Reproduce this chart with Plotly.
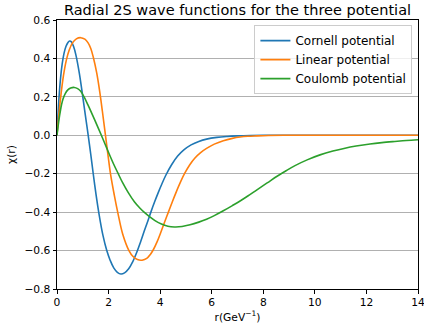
import plotly.graph_objects as go

# Radial coordinate samples (GeV^-1) and chi(r) values for each potential
r_cornell = [0, 0.04, 0.08, 0.14, 0.2, 0.27, 0.35, 0.42, 0.49, 0.56, 0.64, 0.73,
             0.87, 1.0, 1.11, 1.21, 1.31, 1.40, 1.51, 1.63, 1.78, 1.93, 2.06,
             2.2, 2.34, 2.48, 2.62, 2.78, 2.93, 3.09, 3.24, 3.38, 3.52, 3.64,
             3.79, 3.93, 4.07, 4.22, 4.45, 4.68, 4.92, 5.2, 5.5, 5.8, 6.2, 6.6,
             7.0, 7.5, 8.0, 8.5, 9.5, 11, 12.5, 14]
chi_cornell = [0, 0.11, 0.2, 0.30, 0.37, 0.425, 0.463, 0.482, 0.491, 0.486,
               0.463, 0.42, 0.32, 0.2, 0.095, 0.0, -0.1, -0.195, -0.305, -0.41,
               -0.52, -0.6, -0.65, -0.69, -0.713, -0.722, -0.716, -0.695, -0.66,
               -0.61, -0.555, -0.5, -0.447, -0.4, -0.345, -0.297, -0.252, -0.208,
               -0.152, -0.108, -0.076, -0.05, -0.032, -0.02, -0.011, -0.006,
               -0.003, -0.001, 0, 0, 0, 0, 0, 0]

r_linear = [0, 0.07, 0.14, 0.25, 0.36, 0.47, 0.6, 0.75, 0.92, 1.08, 1.2, 1.31,
            1.41, 1.54, 1.66, 1.76, 1.86, 1.97, 2.08, 2.22, 2.37, 2.55, 2.79,
            2.95, 3.12, 3.3, 3.48, 3.62, 3.73, 3.88, 4.02, 4.17, 4.32, 4.47,
            4.63, 4.8, 4.96, 5.15, 5.35, 5.57, 5.8, 6.1, 6.45, 6.8, 7.1, 7.4,
            7.74, 8.2, 8.8, 9.5, 11, 12.5, 14]
chi_linear = [0, 0.105, 0.195, 0.31, 0.39, 0.443, 0.481, 0.502, 0.508, 0.5,
              0.482, 0.452, 0.405, 0.325, 0.225, 0.125, 0.02, -0.095, -0.205,
              -0.31, -0.41, -0.515, -0.6, -0.631, -0.647, -0.65, -0.641, -0.62,
              -0.597, -0.555, -0.507, -0.453, -0.4, -0.347, -0.293, -0.24,
              -0.196, -0.153, -0.118, -0.09, -0.068, -0.046, -0.028, -0.016,
              -0.009, -0.005, -0.003, -0.001, 0, 0, 0, 0, 0]

r_coulomb = [0, 0.05, 0.1, 0.17, 0.23, 0.32, 0.42, 0.53, 0.67, 0.8, 0.92, 1.05,
             1.2, 1.38, 1.55, 1.72, 1.87, 2.02, 2.19, 2.36, 2.55, 2.77, 3.0,
             3.22, 3.4, 3.6, 3.8, 4.05, 4.3, 4.55, 4.85, 5.16, 5.5, 5.8, 6.1,
             6.45, 6.8, 7.1, 7.4, 7.74, 8.15, 8.55, 8.9, 9.23, 9.7, 10.2, 10.7,
             11.17, 11.6, 12.14, 12.6, 13.1, 13.55, 14]
chi_coulomb = [0, 0.055, 0.102, 0.155, 0.188, 0.217, 0.236, 0.246, 0.249,
               0.243, 0.229, 0.2, 0.158, 0.105, 0.053, 0.0, -0.048, -0.096,
               -0.148, -0.196, -0.248, -0.3, -0.346, -0.38, -0.403, -0.425,
               -0.444, -0.462, -0.473, -0.477, -0.475, -0.466, -0.452, -0.437,
               -0.418, -0.393, -0.366, -0.342, -0.316, -0.285, -0.248, -0.212,
               -0.183, -0.158, -0.128, -0.102, -0.082, -0.067, -0.056, -0.045,
               -0.038, -0.032, -0.027, -0.023]

series_names = ["Cornell potential", "Linear potential", "Coulomb potential"]
series_colors = ["#1f77b4", "#ff7f0e", "#2ca02c"]

y_ticks = [-0.8, -0.6, -0.4, -0.2, 0.0, 0.2, 0.4, 0.6]
y_tick_text = ["\u22120.8", "\u22120.6", "\u22120.4", "\u22120.2", "0.0", "0.2", "0.4", "0.6"]
x_ticks = [0, 2, 4, 6, 8, 10, 12, 14]

FONT = "DejaVu Sans"

fig = go.Figure()
for name, color, xs, ys in zip(series_names, series_colors,
                               [r_cornell, r_linear, r_coulomb],
                               [chi_cornell, chi_linear, chi_coulomb]):
    fig.add_trace(go.Scatter(
        x=xs, y=ys, mode="lines", name=name,
        line=dict(color=color, width=1.6, shape="spline", smoothing=1.0),
    ))

fig.update_layout(
    width=424, height=327,
    margin=dict(l=57, r=5.7, t=20, b=38.3),
    paper_bgcolor="white", plot_bgcolor="white",
    font=dict(family=FONT, color="black", size=10.7),
    title=dict(text="Radial 2S wave functions for the three potential",
               x=0.5, xref="paper", xanchor="center",
               y=1 - 10 / 327, yref="container", yanchor="middle",
               font=dict(family=FONT, size=14.5, color="black")),
    legend=dict(x=0.9845, y=0.981, xanchor="right", yanchor="top",
                bgcolor="rgba(255,255,255,0.8)", bordercolor="#cccccc",
                borderwidth=1, font=dict(family=FONT, size=12, color="black")),
    showlegend=True,
)

fig.update_xaxes(
    range=[0, 14], tickvals=x_ticks, ticks="outside", ticklen=3.5,
    tickwidth=0.8, tickcolor="black", showgrid=False, zeroline=False,
    showline=True, linecolor="black", linewidth=1, mirror=True,
    ticklabeloverflow="allow", automargin=False,
    title=dict(text="r(GeV<sup>\u22121</sup>)", standoff=4,
               font=dict(family=FONT, size=10.7)),
)
fig.update_yaxes(
    range=[-0.8, 0.6], tickvals=y_ticks, ticktext=y_tick_text,
    ticks="outside", ticklen=3.5, tickwidth=0.8, tickcolor="black",
    showgrid=True, gridcolor="#b0b0b0", gridwidth=0.8, zeroline=False,
    showline=True, linecolor="black", linewidth=1, mirror=True,
    ticklabeloverflow="allow", automargin=False,
    title=dict(text="\u03c7(r)", standoff=6, font=dict(family=FONT, size=10.7)),
)

fig.write_html("out.html")
